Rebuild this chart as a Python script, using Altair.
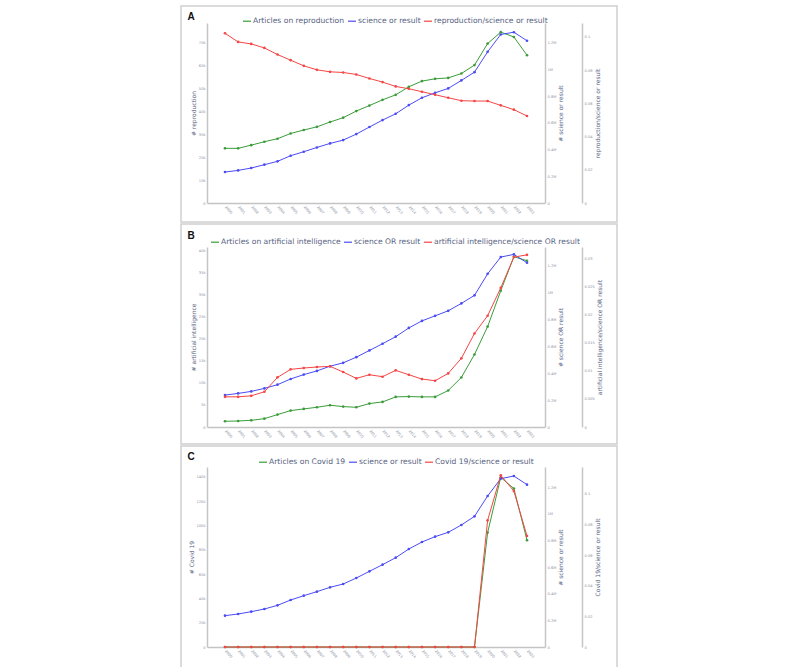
import altair as alt
import pandas as pd

# Publication years shared by the three panels
years = list(range(2000, 2024))

# Panel A: reproduction
a_names = ["Articles on reproduction", "science or result", "reproduction/science or result"]
a_articles = [23900, 23900, 25300, 26800, 28100, 30400, 31900, 33300, 35400, 37300, 40200, 42600,
              45100, 47300, 50800, 53300, 54300, 54700, 56600, 60300, 69700, 74700, 72600, 64600]
a_science = [232000, 244000, 262000, 287000, 312000, 354000, 384000, 416000, 446000, 471000, 516000, 569000,
             621000, 668000, 733000, 788000, 825000, 858000, 918000, 980000, 1132000, 1262000, 1279000, 1215000]
a_ratio = [0.1022, 0.0970, 0.0958, 0.0934, 0.0894, 0.0860, 0.0826, 0.0802, 0.0790, 0.0786, 0.0774, 0.0750,
           0.0728, 0.0702, 0.0688, 0.0670, 0.0652, 0.0634, 0.0616, 0.0614, 0.0614, 0.0588, 0.0562, 0.0524]

# Panel B: artificial intelligence
b_names = ["Articles on artificial intelligence", "science OR result", "artificial intelligence/science OR result"]
b_articles = [1290, 1360, 1510, 1890, 2800, 3710, 4090, 4460, 4920, 4610, 4460, 5300,
              5670, 6810, 6880, 6810, 6810, 8250, 11200, 16400, 22700, 30800, 38500, 37600]
b_science = [237500, 250000, 265000, 287500, 315000, 357500, 390000, 417500, 452500, 477500, 520000, 570000,
             620000, 672500, 737500, 790000, 827500, 865000, 920000, 980000, 1140000, 1265000, 1285000, 1222500]
b_ratio = [0.00538, 0.00538, 0.00556, 0.00628, 0.00885, 0.01028, 0.01052, 0.01070, 0.01082, 0.00980, 0.00867, 0.00932,
           0.00897, 0.01010, 0.00932, 0.00855, 0.00825, 0.00956, 0.01225, 0.01668, 0.01984, 0.02480, 0.03030, 0.03070]

# Panel C: Covid 19
c_names = ["Articles on Covid 19", "science or result", "Covid 19/science or result"]
c_articles = [0, 0, 0, 0, 0, 0, 0, 0, 0, 0, 0, 0,
              0, 0, 0, 0, 0, 0, 0, 0, 94100, 139400, 130300, 87800]
c_science = [235000, 247500, 265000, 285000, 312500, 352500, 385000, 415000, 447500, 472500, 517500, 567500,
             617500, 670000, 735000, 787500, 827500, 860000, 915000, 980000, 1132500, 1262500, 1282500, 1217500]
c_ratio = [0, 0, 0, 0, 0, 0, 0, 0, 0, 0, 0, 0,
           0, 0, 0, 0, 0, 0, 0, 0, 0.0826, 0.1120, 0.1017, 0.0724]

COLORS = ["#3a9d3a", "#4b4bf5", "#f54545"]
TITLE_COLOR = "#56627f"
LABEL_COLOR = "#8c91a3"
AXIS_LINE = "#c4c4c4"
FONT = "DejaVu Sans"
W, H = 338, 180

K_LABEL = "datum.value == 0 ? '0' : format(datum.value / 1000, '~g') + 'k'"
M_LABEL = "datum.value == 0 ? '0' : format(datum.value / 1000000, '.1~f') + 'M'"
R_LABEL = "format(datum.value, '~g')"


def axis_common():
    return dict(
        grid=False, ticks=False, labelFontSize=3.6, labelColor=LABEL_COLOR, labelFont=FONT,
        labelPadding=2, domainColor=AXIS_LINE, domainWidth=1.5, titleFont=FONT,
        titleFontSize=6, titleFontWeight="normal", titleColor=TITLE_COLOR, titleAngle=-90,
    )


def x_enc():
    return alt.X(
        "year:Q",
        scale=alt.Scale(domain=[1998.63, 2024.37], nice=False, zero=False),
        axis=alt.Axis(values=years, format="d", labelAngle=50, labelAlign="left", labelBaseline="middle",
                      title=None, labelFontSize=3.6, labelColor=LABEL_COLOR, grid=False, ticks=False,
                      labelPadding=3, domainColor=AXIS_LINE, domainWidth=1.5, labelFont=FONT),
    )


def panel(letter, letter_y, names, series, left_vals, left_max, right_max, ratio_vals, ratio_max,
          legend_x, legend_y, box_top, box_bottom):
    scale_c = alt.Scale(domain=names, range=COLORS)
    legend = alt.Legend(
        orient="none", legendX=legend_x, legendY=legend_y, direction="horizontal", title=None,
        symbolType="stroke", symbolSize=64, symbolStrokeWidth=1.2, labelFontSize=7.6, labelFont=FONT,
        labelColor=TITLE_COLOR, columnPadding=0, labelOffset=1, padding=0,
    )

    def frame(i):
        return pd.DataFrame({"year": years, "value": series[i], "series": names[i]})

    left_axis = alt.Axis(orient="left", values=left_vals, labelExpr=K_LABEL, title="# " + names[0].replace("Articles on ", ""),
                         titlePadding=2, **axis_common())
    right_axis = alt.Axis(orient="right", values=[0, 200000, 400000, 600000, 800000, 1000000, 1200000],
                          labelExpr=M_LABEL, title="# " + names[1], titlePadding=8, **axis_common())
    ratio_axis = alt.Axis(orient="right", values=ratio_vals, labelExpr=R_LABEL, title=names[2], offset=37,
                          titlePadding=8, **axis_common())

    line_kw = dict(strokeWidth=1, point=alt.OverlayMarkDef(size=7, filled=True))

    def line_layer(i, y_axis, dmax):
        return alt.Chart(frame(i)).mark_line(**line_kw).encode(
            x=x_enc(),
            y=alt.Y("value:Q", scale=alt.Scale(domain=[0, dmax], nice=False, zero=True), axis=y_axis),
            color=alt.Color("series:N", scale=scale_c, legend=legend),
        )

    one = pd.DataFrame({"t": [letter]})
    box = alt.Chart(one).mark_rect(fillOpacity=0, stroke="#cfcfcf", strokeWidth=1.5).encode(
        x=alt.value(-26), x2=alt.value(410), y=alt.value(box_top), y2=alt.value(box_bottom)
    )
    tag = alt.Chart(one).mark_text(font="Liberation Sans", fontSize=10, fontWeight="bold", color="#111111",
                                   align="center", baseline="middle").encode(
        text="t:N", x=alt.value(-16), y=alt.value(letter_y)
    )

    return alt.layer(
        box, tag,
        line_layer(0, left_axis, left_max),
        line_layer(1, right_axis, right_max),
        line_layer(2, ratio_axis, ratio_max),
    ).resolve_scale(y="independent").properties(width=W, height=H)


panel_a = panel("A", -6, a_names, [a_articles, a_science, a_ratio],
                [0, 10000, 20000, 30000, 40000, 50000, 60000, 70000], 78700, 1348000,
                [0, 0.02, 0.04, 0.06, 0.08, 0.1], 0.1084, 35, -7, -17, 199)
panel_b = panel("B", -11, b_names, [b_articles, b_science, b_ratio],
                [0, 5000, 10000, 15000, 20000, 25000, 30000, 35000, 40000], 40700, 1340000,
                [0, 0.005, 0.01, 0.015, 0.02, 0.025, 0.03], 0.0321, 3, -10, -23, 197)
panel_c = panel("C", -10, c_names, [c_articles, c_science, c_ratio],
                [0, 20000, 40000, 60000, 80000, 100000, 120000, 140000], 148000, 1350000,
                [0, 0.02, 0.04, 0.06, 0.08, 0.1], 0.1174, 51, -10, -21, 201)

chart = alt.vconcat(panel_a, panel_b, panel_c, spacing=0).resolve_scale(
    color="independent", x="independent"
).properties(
    padding={"left": 180, "top": 5, "right": 5, "bottom": 0}
).configure_view(strokeWidth=0)

chart.save("out.html", embed_options={"renderer": "svg", "actions": False})
